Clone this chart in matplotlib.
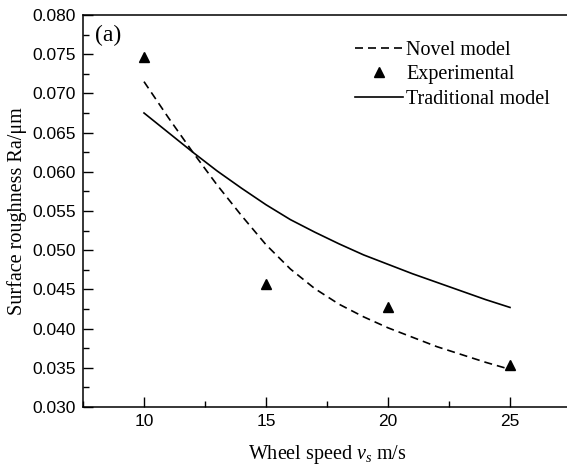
import matplotlib
matplotlib.use("Agg")
import matplotlib.pyplot as plt
from matplotlib.ticker import MultipleLocator, FormatStrFormatter

plt.rcParams['mathtext.fontset'] = 'custom'
plt.rcParams['mathtext.rm'] = 'Liberation Serif'
plt.rcParams['mathtext.it'] = 'Liberation Serif:italic'

# Data
speed_model = [10, 11, 12, 13, 14, 15, 16, 17, 18, 19, 20, 21, 22, 23, 24, 25]
novel_model = [0.0715, 0.0669, 0.0625, 0.0583, 0.0544, 0.0507, 0.0476, 0.0451,
               0.0431, 0.0415, 0.0401, 0.0389, 0.0377, 0.0367, 0.0357, 0.0348]
traditional_model = [0.0675, 0.0650, 0.0625, 0.0601, 0.0579, 0.0558, 0.0539, 0.0523,
                     0.0508, 0.0494, 0.0482, 0.0470, 0.0459, 0.0448, 0.0437, 0.0427]
speed_exp = [10, 15, 20, 25]
experimental = [0.0747, 0.0457, 0.0428, 0.0353]

fig = plt.figure(figsize=(5.67, 4.70), dpi=100)
ax = fig.add_axes([83/567, 63/470, 488/567, 392/470])

ax.plot(speed_model, novel_model, linestyle=(0, (4.8, 3)), color='black', lw=1.2,
        label='Novel model')
ax.plot(speed_exp, experimental, linestyle='none', marker='^', color='black',
        markersize=7, label='Experimental')
ax.plot(speed_model, traditional_model, linestyle='-', color='black', lw=1.2,
        label='Traditional model')

ax.set_xlim(7.5, 27.5)
ax.set_ylim(0.030, 0.080)
ax.xaxis.set_major_locator(MultipleLocator(5))
ax.xaxis.set_minor_locator(MultipleLocator(2.5))
ax.yaxis.set_major_locator(MultipleLocator(0.005))
ax.yaxis.set_minor_locator(MultipleLocator(0.0025))
ax.yaxis.set_major_formatter(FormatStrFormatter('%.3f'))
ax.tick_params(which='both', direction='in', top=False, right=False, width=1.0,
               labelsize=12.5)
ax.tick_params(which='major', length=7, pad=5)
ax.tick_params(which='minor', length=4)
for lab in ax.get_xticklabels() + ax.get_yticklabels():
    lab.set_fontfamily('Liberation Sans')
for s in ax.spines.values():
    s.set_linewidth(1.1)

ax.set_xlabel(r'Wheel speed $v_s$ m/s', fontfamily='Liberation Serif', fontsize=14.5,
              labelpad=10)
ax.set_ylabel('Surface roughness Ra/\u03bcm', fontfamily='Liberation Serif',
              fontsize=14.5, labelpad=4)

ax.text(0.025, 0.975, '(a)', transform=ax.transAxes, fontfamily='Liberation Serif',
        fontsize=17, va='top', ha='left')

leg = ax.legend(loc='upper right', bbox_to_anchor=(0.982, 0.964), frameon=False,
                prop={'family': 'Liberation Serif', 'size': 14.5},
                handlelength=2.4, handletextpad=0.15, labelspacing=0.25,
                borderaxespad=0.2)

fig.savefig('out.png', dpi=100)
